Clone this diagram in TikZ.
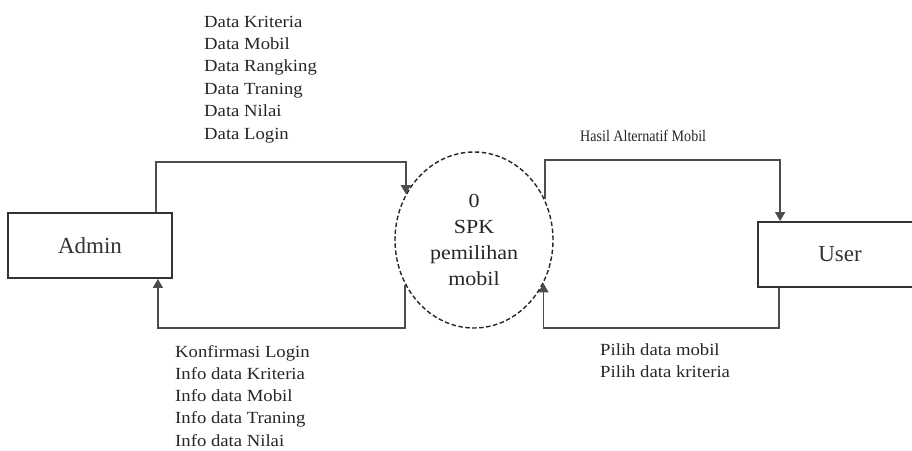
\documentclass[tikz,border=0pt]{standalone}
\usepackage{fontspec}
\setmainfont{Liberation Serif}
\newfontfamily\wideserif[FakeStretch=1.1]{Liberation Serif}
\newfontfamily\narrowserif[FakeStretch=0.88]{Liberation Serif}
\usetikzlibrary{arrows.meta,shapes.geometric}
\tikzset{
  entity/.style={draw=black!80, line width=1.8pt, rectangle, minimum width=164pt, minimum height=65pt, inner sep=0pt, font=\fontsize{23}{26}\selectfont, text=black!80},
  process/.style={draw=black!85, line width=1.4pt, dash pattern=on 4.5pt off 2.5pt, ellipse, minimum width=158pt, minimum height=176pt, inner sep=0pt, align=center, font=\wideserif\fontsize{20}{26}\selectfont, text=black!85},
  flow/.style={draw=black!70, line width=1.6pt},
  tip/.style={-{Triangle[length=9pt,width=10pt]}},
  rtip/.style={{Triangle[length=9pt,width=10pt]}-},
  lbl/.style={inner sep=0pt, anchor=base west, font=\wideserif\fontsize{17}{20}\selectfont, text=black!85},
  hlbl/.style={inner sep=0pt, anchor=base west, font=\narrowserif\fontsize{16}{20}\selectfont, text=black!85}
}
\begin{document}
\begin{tikzpicture}[x=1pt,y=-1pt]
\clip (0,0) rectangle (912,450);
\fill[white] (0,0) rectangle (912,450);

\node[entity] (admin) at (90,245.5) {Admin};
\node[entity] (user) at (840,254.5) {User};
\node[process] (circ) at (474,240) {0\\SPK\\pemilihan\\mobil};

% Admin -> process (top)
\draw[flow,tip] ([xshift=-17]admin.north east) -- ++(0,-50) -| (circ.146);
% process -> Admin (bottom)
\draw[flow,rtip] ([xshift=-15]admin.south east) -- ++(0,49) -| (circ.213);
% process -> User (top)
\draw[flow,rtip] ([xshift=23]user.north west) -- ++(0,-61) -| (circ.30);
% User -> process (bottom)
\draw[flow,tip] ([xshift=22]user.south west) -- ++(0,40) -| (circ.328);

% labels
\foreach \t [count=\i] in {Data Kriteria, Data Mobil, Data Rangking, Data Traning, Data Nilai, Data Login}
  \node[lbl] (dl\i) at (204,{27+22.4*(\i-1)}) {\t};
\foreach \t [count=\i] in {Konfirmasi Login, Info data Kriteria, Info data Mobil, Info data Traning, Info data Nilai}
  \node[lbl] (il\i) at (175,{357+22.3*(\i-1)}) {\t};
\foreach \t [count=\i] in {Pilih data mobil, Pilih data kriteria}
  \node[lbl] (pl\i) at (600,{355+22*(\i-1)}) {\t};
\node[hlbl] (hasil) at (580,141) {Hasil Alternatif Mobil};
\end{tikzpicture}
\end{document}
